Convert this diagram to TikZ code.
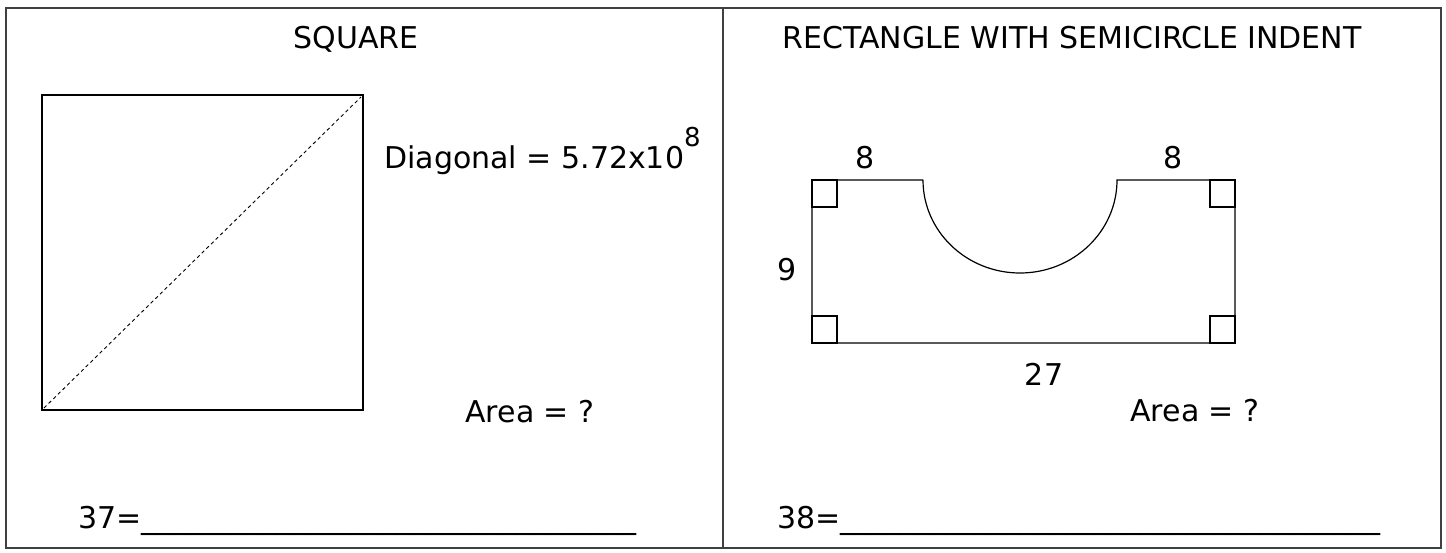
\documentclass[tikz,border=0pt]{standalone}
\usepackage{fontspec}
\setmainfont{DejaVu Sans}
\newcommand\blanks[1]{\foreach \k in {1,...,#1}{\_}}

\begin{document}
\begin{tikzpicture}[x=1pt,y=-1pt,
      lbl/.style={inner sep=0pt,font=\fontsize{30}{36}\selectfont},
      panel/.style={draw=black!75,line width=1.5pt},
      outline/.style={line width=2.8pt},
      indent/.style={line width=1.2pt},
      rightangle/.style={line width=2.6pt}]
    \useasboundingbox (0,0) rectangle (1446,552);
    \draw[panel] (6,8) rectangle (1441,548);
    \draw[panel] (723,8) -- (723,548);
    % left panel: square
    \node[lbl,anchor=base] (sqtitle) at (356,48) {SQUARE};
    \coordinate (sqbl) at (44,408);
    \coordinate (sqtr) at (361,97);
    \draw[outline] (42,95) rectangle (363,410);
    \draw[line width=0.9pt,dash pattern=on 3.5pt off 3pt] (sqbl) -- (sqtr);
    \node[lbl,anchor=base west] (diag) at (384,168)
      {Diagonal = 5.72x10\raisebox{22pt}{\fontsize{26}{26}\selectfont 8}};
    \node[lbl,anchor=base] (sqarea) at (530,422) {Area = ?};
    \node[lbl,anchor=base west] (ans37) at (78,528) {37=\blanks{33}};
    % right panel: rectangle with indent
    \node[lbl,anchor=base] (rctitle) at (1072,48) {RECTANGLE WITH SEMICIRCLE INDENT};
    \coordinate (cutl) at (923,180);
    \coordinate (cutr) at (1117,180);
    \draw[indent] (cutl) -- (812,180) -- (812,343) -- (1235,343) -- (1235,180) -- (cutr)
      arc[start angle=0,end angle=180,x radius=97,y radius=93];
    \foreach \x/\y in {812/180,1210/180,812/316,1210/316}
      \draw[rightangle] (\x,\y) rectangle ++(25,27);
    \node[lbl,anchor=base] (topl) at (865,168) {8};
    \node[lbl,anchor=base] (topr) at (1173,168) {8};
    \node[lbl,anchor=base] (side) at (787,280) {9};
    \node[lbl,anchor=base] (bottom) at (1044,385) {27};
    \node[lbl,anchor=base] (rcarea) at (1195,421) {Area = ?};
    \node[lbl,anchor=base west] (ans38) at (777,528) {38=\blanks{36}};
  \end{tikzpicture}
\end{document}
